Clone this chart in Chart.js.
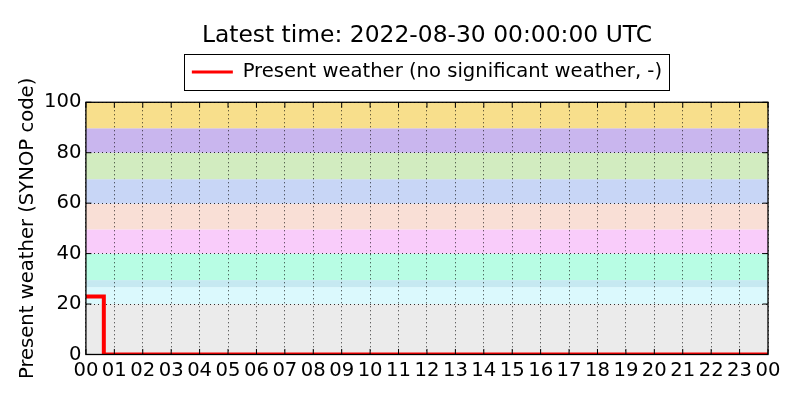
<!DOCTYPE html>
<html>
<head>
<meta charset="utf-8">
<script src="https://cdn.jsdelivr.net/npm/chart.js@4/dist/chart.umd.min.js"></script>
<style>
  body { margin: 0; background: #fff; }
  #wrap { width: 800px; height: 400px; }
</style>
</head>
<body>
<div id="wrap"><canvas id="synopChart" width="800" height="400"></canvas></div>
<script>
// data (hours since 2022-08-30 00 UTC)
const timeHours = [0, 0.63, 24];
const presentWeather = [23, 0, 0];
const seriesLabel = 'Present weather (no significant weather, -)';
const titleText = 'Latest time: 2022-08-30 00:00:00 UTC';
const yTicks = [0, 20, 40, 60, 80, 100];

// SYNOP code bands behind the plot
const bandEdges = [0, 20, 26.7, 29.5, 40, 49.6, 59.8, 69.5, 80, 89.7, 100];
const bandColors = ['#ebebeb', '#dbf9fd', '#c6e9f1', '#b8fde4', '#f9ccfa',
                    '#f9dfd6', '#c8d6f6', '#d2ecc0', '#c9b6ee', '#f8df8c'];

const FONT = 'DejaVu Sans';

// colored bands, drawn before the grid
const bandsPlugin = {
    id: 'bands',
    beforeDraw(chart) {
        const ctx = chart.ctx;
        const area = chart.chartArea;
        const y = chart.scales.y;
        ctx.save();
        for (let i = 0; i < bandColors.length; i++) {
            const top = y.getPixelForValue(bandEdges[i + 1]);
            const bottom = y.getPixelForValue(bandEdges[i]);
            ctx.fillStyle = bandColors[i];
            ctx.fillRect(area.left, top, area.right - area.left, bottom - top);
        }
        ctx.restore();
    }
};

// inward tick marks on all four sides, frame, and box around the legend
const framePlugin = {
    id: 'frame',
    afterDraw(chart) {
        const ctx = chart.ctx;
        const a = chart.chartArea;
        const len = 5.5;
        ctx.save();
        ctx.strokeStyle = '#000';
        ctx.lineWidth = 1;
        ctx.beginPath();
        chart.scales.x.ticks.forEach(t => {
            const px = chart.scales.x.getPixelForValue(t.value);
            ctx.moveTo(px, a.top); ctx.lineTo(px, a.top + len);
            ctx.moveTo(px, a.bottom); ctx.lineTo(px, a.bottom - len);
        });
        chart.scales.y.ticks.forEach(t => {
            const py = chart.scales.y.getPixelForValue(t.value);
            ctx.moveTo(a.left, py); ctx.lineTo(a.left + len, py);
            ctx.moveTo(a.right, py); ctx.lineTo(a.right - len, py);
        });
        ctx.stroke();
        ctx.lineWidth = 1.3;
        ctx.strokeRect(a.left, a.top, a.right - a.left, a.bottom - a.top);

        const hb = chart.legend.legendHitBoxes[0];
        if (hb) {
            ctx.lineWidth = 1;
            ctx.strokeStyle = '#000';
            ctx.strokeRect(Math.round(hb.left - 8) + 0.5, Math.round(hb.top - 8) + 0.5,
                           Math.round(hb.width + 15), Math.round(hb.height + 16));
        }
        ctx.restore();
    }
};

new Chart(document.getElementById('synopChart'), {
    type: 'line',
    data: {
        datasets: [{
            label: seriesLabel,
            data: timeHours.map((t, i) => ({ x: t, y: presentWeather[i] })),
            borderColor: '#ff0000',
            backgroundColor: '#ff0000',
            borderWidth: 4,
            pointRadius: 1.5,
            pointBorderWidth: 0,
            stepped: 'before',
            clip: 0
        }]
    },
    options: {
        responsive: false,
        animation: false,
        layout: { padding: { left: 0, right: 32, top: 0, bottom: 12 } },
        plugins: {
            title: {
                display: true,
                text: titleText,
                fullSize: false,
                color: '#000',
                font: { family: FONT, size: 23.4, weight: 'normal' },
                padding: { top: 22, bottom: 2 }
            },
            legend: {
                display: true,
                fullSize: false,
                labels: {
                    color: '#000',
                    font: { family: FONT, size: 19.6 },
                    boxWidth: 41,
                    boxHeight: 3,
                    padding: 10,
                    generateLabels(chart) {
                        const items = Chart.defaults.plugins.legend.labels.generateLabels(chart);
                        items.forEach(it => { it.lineWidth = 0; });
                        return items;
                    }
                }
            },
            tooltip: { enabled: false }
        },
        scales: {
            x: {
                type: 'linear',
                min: 0,
                max: 24,
                grid: { color: '#000', lineWidth: 0.8, drawTicks: false },
                border: { display: false, dash: [1, 3] },
                ticks: {
                    stepSize: 1,
                    autoSkip: false,
                    maxRotation: 0,
                    padding: 5,
                    color: '#000',
                    font: { family: FONT, size: 19.6 },
                    callback: v => String(v % 24).padStart(2, '0')
                }
            },
            // empty axis on top: only leaves the gap between legend and plot
            xTop: {
                type: 'linear',
                position: 'top',
                min: 0,
                max: 24,
                grid: { drawOnChartArea: false, drawTicks: true, tickLength: 10.6, color: 'rgba(0,0,0,0)' },
                border: { display: false },
                ticks: { display: false }
            },
            y: {
                min: 0,
                max: 100,
                afterBuildTicks(scale) {
                    scale.ticks = yTicks.map(v => ({ value: v }));
                },
                grid: { color: '#000', lineWidth: 0.8, drawTicks: false },
                border: { display: false, dash: [1, 3] },
                ticks: {
                    padding: 4.5,
                    color: '#000',
                    font: { family: FONT, size: 19.6 }
                },
                title: {
                    display: true,
                    text: 'Present weather (SYNOP code)',
                    color: '#000',
                    font: { family: FONT, size: 19.6 },
                    padding: { top: 16, bottom: 0 }
                }
            }
        }
    },
    plugins: [bandsPlugin, framePlugin]
});
</script>
</body>
</html>
